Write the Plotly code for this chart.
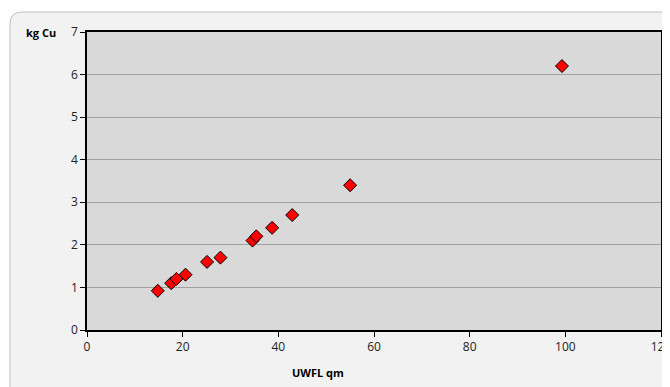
import plotly.graph_objects as go

uwfl_qm = [14.8, 17.6, 18.7, 20.6, 25.1, 27.9, 34.6, 35.4, 38.7, 42.9, 55.0, 99.3]
kg_cu = [0.92, 1.1, 1.2, 1.3, 1.6, 1.7, 2.1, 2.2, 2.4, 2.7, 3.4, 6.2]

x_ticks = [0, 20, 40, 60, 80, 100, 120]
y_ticks = [0, 1, 2, 3, 4, 5, 6, 7]

OFF = 8  # page body margin
W, H = 670 - OFF, 387 - OFF
L, R, T, B = 87 - OFF, 9, 32 - OFF, 57
pw, ph = W - L - R, H - T - B

def px(xw):
    return (xw - OFF - L) / pw

def py(yw):
    return (H - B - (yw - OFF)) / ph

# rounded outer chart area path in paper coords (window pixel inputs)
x0, y0, x1, y1, r = 10, 12, 700, 420, 12
path = (f"M {px(x0)} {py(y0 + r)} "
        f"Q {px(x0)} {py(y0)} {px(x0 + r)} {py(y0)} "
        f"L {px(x1)} {py(y0)} L {px(x1)} {py(y1)} L {px(x0)} {py(y1)} Z")

fig = go.Figure()
fig.add_trace(go.Scatter(
    x=uwfl_qm, y=kg_cu, mode="markers",
    marker=dict(symbol="diamond", size=10, color="#ff0000",
                line=dict(color="#000000", width=1)),
    showlegend=False, cliponaxis=False))

font = dict(family="Open Sans, Liberation Sans, sans-serif", size=11, color="#000000")

fig.update_layout(
    width=W, height=H,
    margin=dict(l=L, r=R, t=T, b=B, autoexpand=False),
    paper_bgcolor="#ffffff",
    plot_bgcolor="#d9d9d9",
    font=font,
    shapes=[
        dict(type="path", path=path, xref="paper", yref="paper",
             fillcolor="#f2f2f2", line=dict(color="#bfbfbf", width=1), layer="below"),
        dict(type="rect", x0=0, x1=1, y0=0, y1=1, xref="paper", yref="paper",
             fillcolor="#d9d9d9", line=dict(width=0), layer="below"),
    ],
    xaxis=dict(range=[0, 120], tickvals=x_ticks, ticks="outside", ticklen=5,
               tickcolor="#000000", showline=True, linecolor="#000000", linewidth=1.5,
               mirror=True, showgrid=False, zeroline=False,
               ticklabeloverflow="allow",
               tickfont=dict(size=12, color="#222222")),
    yaxis=dict(range=[0, 7], tickvals=y_ticks, ticks="outside", ticklen=5,
               tickcolor="#000000", showline=True, linecolor="#000000", linewidth=1.5,
               mirror=True, showgrid=True, gridcolor="#a0a0a0", gridwidth=1,
               zeroline=False, ticklabeloverflow="allow",
               tickfont=dict(size=12, color="#222222")),
    annotations=[
        dict(text="<b>kg Cu</b>", xref="paper", yref="paper", x=px(58), y=py(32),
             xanchor="right", yanchor="middle", showarrow=False, font=dict(size=11)),
        dict(text="<b>UWFL qm</b>", xref="paper", yref="paper", x=px(318), y=py(372),
             xanchor="center", yanchor="middle", showarrow=False, font=dict(size=11)),
    ],
)

fig.write_html("out.html")
